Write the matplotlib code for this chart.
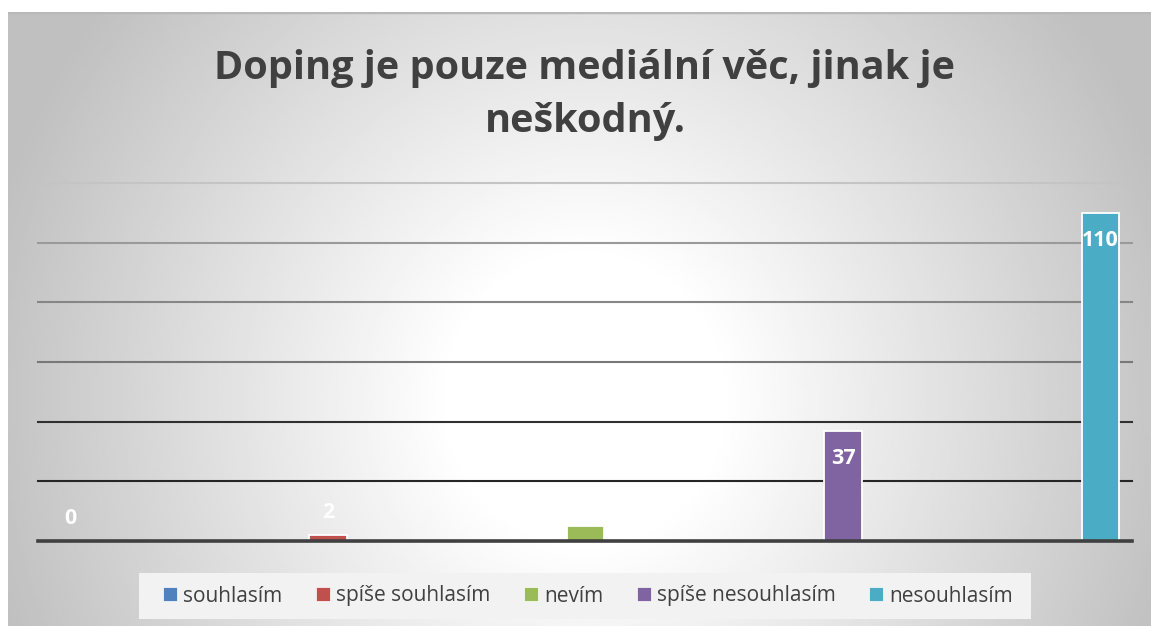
import numpy as np
import matplotlib
matplotlib.use("Agg")
import matplotlib.pyplot as plt
from matplotlib.patches import Patch, Rectangle

# Answers to the survey question
categories = ["souhlasím", "spíše souhlasím", "nevím", "spíše nesouhlasím", "nesouhlasím"]
counts = [0, 2, 5, 37, 110]
colors = ["#4F81BD", "#C0504D", "#9BBB59", "#8064A2", "#4BACC6"]
title = "Doping je pouze mediální věc, jinak je\nneškodný."

W, H = 1151, 626
fig = plt.figure(figsize=(W / 100, H / 100), dpi=100)
fig.patch.set_facecolor("white")

# radial gradient background of the chart area
bg = fig.add_axes([8 / W, 0, 1 - 8 / W, 1 - 12 / H])
bg.set_axis_off()
xx, yy = np.meshgrid(np.linspace(8, W, 400), np.linspace(12, H, 250))
d = np.sqrt(((xx - 585) / 620) ** 2 + ((yy - 400) / 650) ** 2)
shade = 1 - 0.25 * np.clip((d - 0.22) / 0.78, 0, 1)
bg.imshow(shade, cmap="gray", vmin=0, vmax=1, aspect="auto",
          extent=[0, 1, 0, 1], interpolation="bilinear")
bg.set_xlim(0, 1)
bg.set_ylim(0, 1)
bg.axhline(1, color="#b8b8b8", lw=2.5)

# plot area
ax = fig.add_axes([38 / W, (H - 540.7) / H, (1131.7 - 38) / W, (540.7 - 183.3) / H])
ax.patch.set_alpha(0)
ax.set_xlim(-0.126, 4.121)
ax.set_ylim(0, 120)
for s in ax.spines.values():
    s.set_visible(False)
ax.set_xticks([])
ax.set_yticks([])

grid_colors = {20: "#262626", 40: "#303030", 60: "#787878", 80: "#868686", 100: "#9a9a9a", 120: "#c4c4c4"}
for v, c in grid_colors.items():
    ax.axhline(v, color=c, lw=1.5, zorder=1, clip_on=False)
ax.axhline(0, color="#404040", lw=2.6, zorder=4, clip_on=False)

x = np.arange(len(categories))
ax.bar(x, counts, width=0.144, color=colors, edgecolor="white", linewidth=1.3, zorder=3)

for xi, v in zip(x, counts):
    ty = v - 9.3 if v > 20 else v + 7.5
    ax.text(xi, ty, str(v), ha="center", va="center", color="white",
            fontsize=15.5, fontweight="bold", family="Open Sans", zorder=5)

fig.text(585 / W, 1 - 95 / H, title, ha="center", va="center", fontsize=28.5,
         fontweight="bold", family="Open Sans", color="#404040", linespacing=1.45)

# legend box
fig.patches.append(Rectangle((139 / W, 1 - 619 / H), (1031 - 139) / W, 46 / H,
                             transform=fig.transFigure, facecolor="#f2f2f2",
                             edgecolor="none", zorder=1))
handles = [Patch(facecolor=c, edgecolor="white", linewidth=0.5) for c in colors]
leg = fig.legend(handles, categories, loc="center", bbox_to_anchor=(588 / W, 1 - 596 / H),
                 ncol=5, frameon=False, borderpad=0,
                 handlelength=0.68, handleheight=0.68, handletextpad=0.3,
                 columnspacing=1.6, prop={"family": "Open Sans", "size": 15})
for t in leg.get_texts():
    t.set_color("#404040")

fig.savefig("out.png", dpi=100)
